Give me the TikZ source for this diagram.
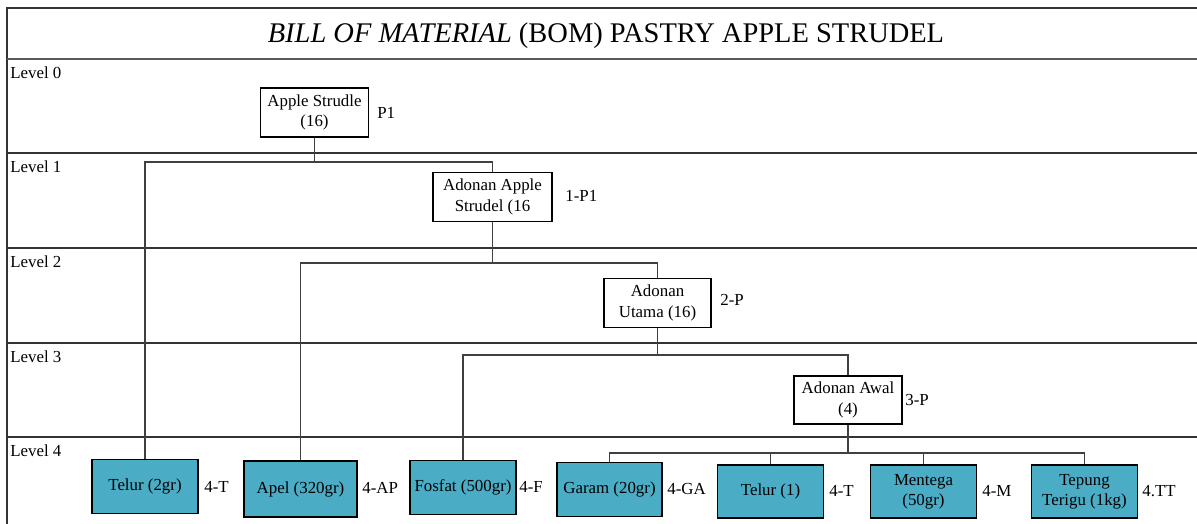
\documentclass[tikz,border=0pt]{standalone}
\usepackage{fontspec}
\setmainfont{Liberation Serif}
\usepackage{tikz}
\usetikzlibrary{positioning,calc}
\definecolor{partfill}{HTML}{4BACC6}

\begin{document}
\begin{tikzpicture}[x=0.02cm,y=-0.02cm,
    part/.style={draw, fill=white, line width=0.6pt, align=center, inner sep=1pt,
        minimum width=2.16cm, minimum height=0.98cm, font=\fontsize{9.6}{11.5}\selectfont},
    item/.style={part, fill=partfill, minimum width=2.13cm, minimum height=1.08cm},
    code/.style={anchor=west, inner sep=0pt, font=\fontsize{9.6}{11.5}\selectfont},
    levtext/.style={anchor=north west, inner sep=0pt, font=\fontsize{9.6}{11.5}\selectfont},
    band/.style={line width=0.6pt, black!80},
    link/.style={line width=0.6pt, black!75}]
    \useasboundingbox (0,0) rectangle (1197,524);

    % Frame and level bands
    \draw[band] (1205,8) -- (7,8) -- (7,530);
    \draw[band, black!65, line width=0.8pt] (7,59) -- (1205,59);
    \foreach \yy in {153,248,343,437} {
        \draw[band] (7,\yy) -- (1205,\yy);
    }
    \node[font=\fontsize{16.2}{19}\selectfont] (title) at (606,36) {\textit{BILL OF MATERIAL} (BOM) PASTRY APPLE STRUDEL};
    \node[levtext] (lev0) at (10,66) {Level 0};
    \node[levtext] (lev1) at (10,160) {Level 1};
    \node[levtext] (lev2) at (10,255) {Level 2};
    \node[levtext] (lev3) at (10,350) {Level 3};
    \node[levtext] (lev4) at (10,444) {Level 4};

    % Assemblies
    \node[part] (strudle) at (314.5,112.5) {Apple Strudle\\(16)};
    \node[part, minimum width=2.38cm] (adapple) at (492.5,197) {Adonan Apple\\Strudel (16};
    \node[part, minimum width=2.14cm] (adutama) at (657.5,303) {Adonan\\Utama (16)};
    \node[part, minimum height=0.96cm] (adawal) at (848,400) {Adonan Awal\\(4)};

    % Raw materials
    \node[item, minimum width=2.12cm] (telurA) at (145,486.5) {Telur (2gr)};
    \node[item, minimum width=2.26cm, minimum height=1.12cm] (apel) at (300.5,489) {Apel (320gr)};
    \node[item, minimum width=2.12cm] (fosfat) at (463,487.5) {Fosfat (500gr)};
    \node[item, minimum width=2.10cm] (garam) at (609.5,489.5) {Garam (20gr)};
    \node[item, minimum height=1.06cm] (telurB) at (770.5,491.5) {Telur (1)};
    \node[item, minimum height=1.06cm] (mentega) at (923.5,491.5) {Mentega\\(50gr)};
    \node[item, minimum height=1.06cm] (tepung) at (1084.5,491.5) {Tepung\\Terigu (1kg)};

    % Codes
    \node[code] (cstrudle) at (377,113) {P1};
    \node[code] (cadapple) at (565,196) {1-P1};
    \node[code] (cadutama) at (720,300) {2-P};
    \node[code] (cadawal) at (905,400) {3-P};
    \node[code] (ctelurA) at (204,487) {4-T};
    \node[code] (capel) at (362,488) {4-AP};
    \node[code] (cfosfat) at (519,487) {4-F};
    \node[code] (cgaram) at (667,489) {4-GA};
    \node[code] (ctelurB) at (829,491) {4-T};
    \node[code] (cmentega) at (982,491) {4-M};
    \node[code] (ctepung) at (1142,491) {4.TT};

    % Branch heights
    \coordinate (br0) at (0,162);
    \coordinate (br1) at (0,263);
    \coordinate (br2) at (0,355);
    \coordinate (br3) at (0,453);

    % Connectors
    \draw[link] (strudle.south) -- (strudle.south |- br0);
    \draw[link] (telurA.north) |- (adapple.north |- br0) -- (adapple.north);
    \draw[link] (adapple.south) -- (adapple.south |- br1);
    \draw[link] (apel.north) |- (adutama.north |- br1) -- (adutama.north);
    \draw[link] (adutama.south) -- (adutama.south |- br2);
    \draw[link] (fosfat.north) |- (adawal.north |- br2) -- (adawal.north);
    \draw[link] (adawal.south) -- (adawal.south |- br3);
    \draw[link] (garam.north) |- (tepung.north |- br3) -- (tepung.north);
    \draw[link] (telurB.north) -- (telurB.north |- br3);
    \draw[link] (mentega.north) -- (mentega.north |- br3);
\end{tikzpicture}
\end{document}
